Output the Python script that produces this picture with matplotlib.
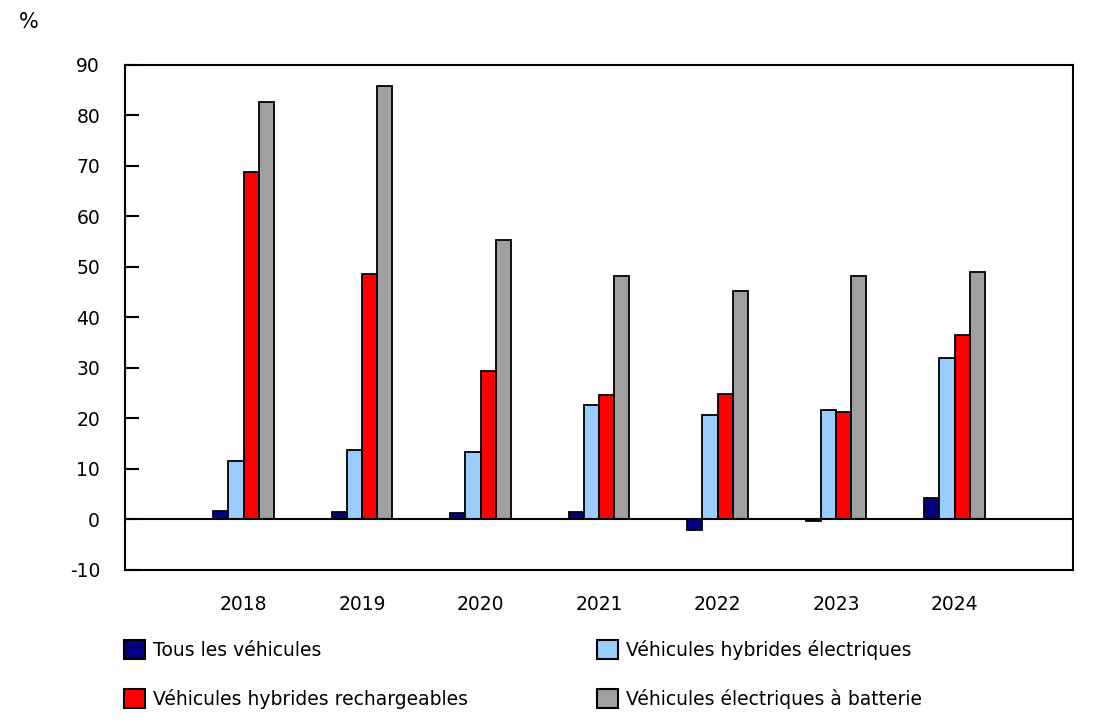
import numpy as np
import matplotlib.pyplot as plt
from matplotlib.patches import Patch

years = ["2018", "2019", "2020", "2021", "2022", "2023", "2024"]
tous = [1.7, 1.5, 1.2, 1.5, -2.1, -0.3, 4.3]
hybrides = [11.5, 13.8, 13.4, 22.6, 20.7, 21.6, 31.9]
rechargeables = [68.8, 48.7, 29.4, 24.6, 24.9, 21.2, 36.5]
batterie = [82.7, 85.8, 55.4, 48.3, 45.2, 48.2, 49.0]

labels = ["Tous les véhicules", "Véhicules hybrides électriques",
          "Véhicules hybrides rechargeables", "Véhicules électriques à batterie"]
colors = ["#000080", "#99ccff", "#ff0000", "#a0a0a0"]
series = [tous, hybrides, rechargeables, batterie]

plt.rcParams['font.family'] = ['DejaVu Sans']
plt.rcParams['axes.unicode_minus'] = False
fig = plt.figure(figsize=(10.95, 7.26), dpi=100)
ax = fig.add_axes([0.1142, 0.2149, 0.8658, 0.6956])

x = np.arange(1, len(years) + 1)
w = 0.128
for i, (vals, c) in enumerate(zip(series, colors)):
    ax.bar(x + (i - 1.5) * w, vals, width=w, color=c, edgecolor="black",
           linewidth=1.3, zorder=3)

ax.axhline(0, color="black", linewidth=1.5, zorder=4)
ax.set_xlim(0, 8)
ax.set_ylim(-10, 90)
ax.set_yticks(range(-10, 91, 10))
ax.set_xticks(x)
ax.set_xticklabels(years)
ax.tick_params(axis="y", direction="in", length=10, width=1.5, labelsize=13.5, pad=18)
ax.tick_params(axis="x", length=0, labelsize=13.5, pad=18)
for s in ax.spines.values():
    s.set_linewidth(1.5)

fig.text(0.017, 0.962, "%", fontsize=15)

handles = [Patch(facecolor=c, edgecolor="black", linewidth=1.5) for c in colors]
order = [0, 2, 1, 3]
fig.legend([handles[i] for i in order], [labels[i] for i in order],
           ncol=2, loc="upper left", bbox_to_anchor=(0.0982, 0.142),
           frameon=False, fontsize=13.5, handlelength=1.12, handleheight=1.12,
           handletextpad=0.43, columnspacing=6.85, labelspacing=1.55)

fig.savefig("out.png", dpi=100)
